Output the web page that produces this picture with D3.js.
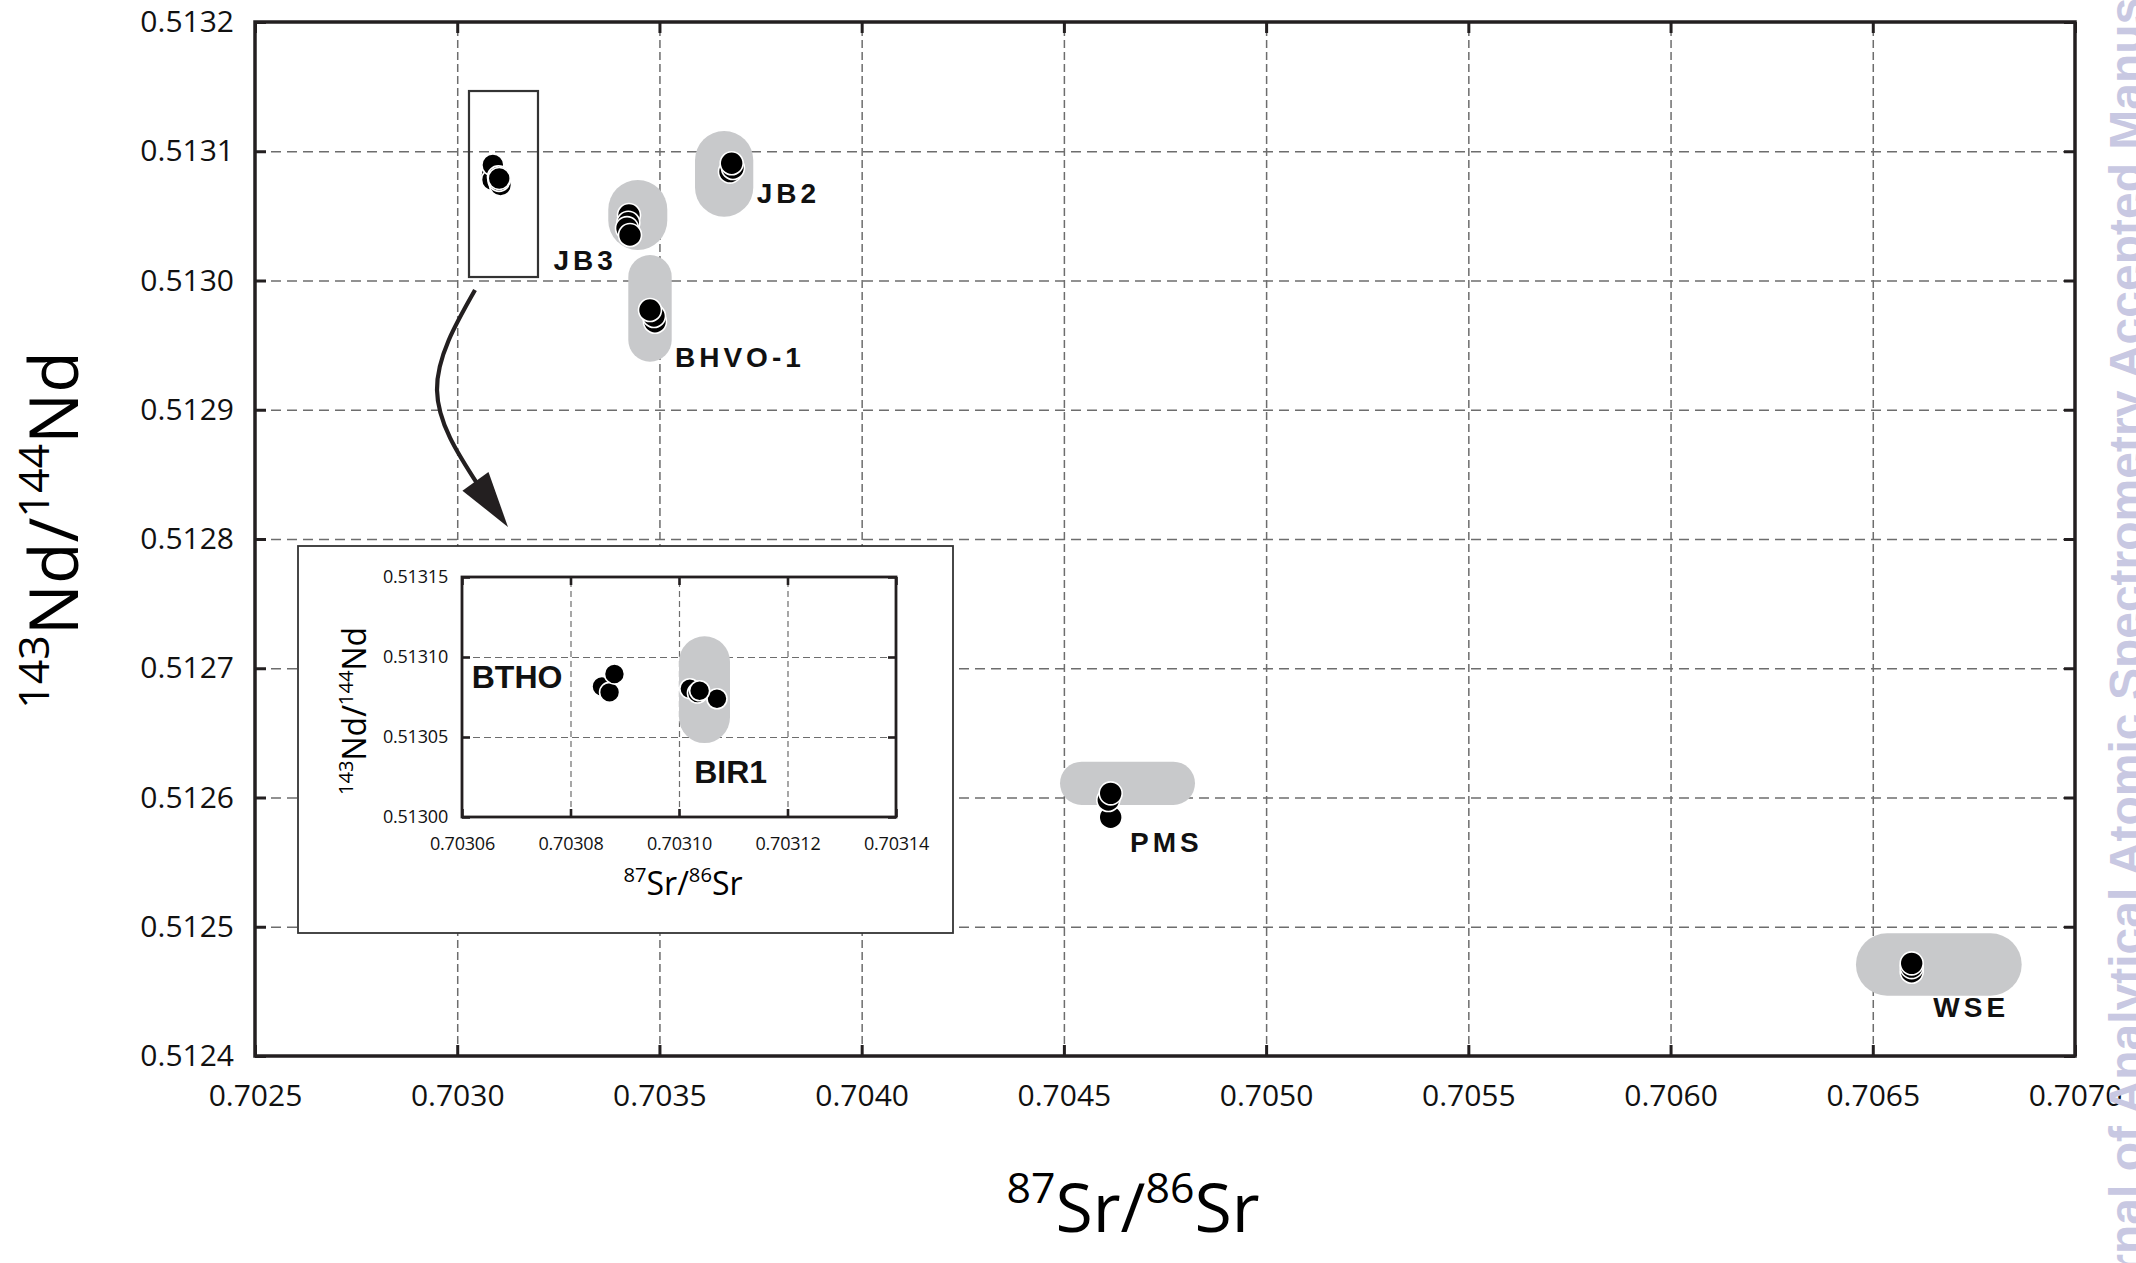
<!DOCTYPE html>
<html>
<head>
<meta charset="utf-8">
<script src="https://cdn.jsdelivr.net/npm/d3@7"></script>
<style>
    html, body { margin: 0; padding: 0; background: #ffffff; }
    svg { display: block; }
</style>
</head>
<body>
<svg id="chart" width="2136" height="1263"></svg>
<script>

// ---- main plot data ----
const X_TICKS = [0.7025, 0.7030, 0.7035, 0.7040, 0.7045, 0.7050, 0.7055, 0.7060, 0.7065, 0.7070];
const X_TICK_LABELS = ["0.7025", "0.7030", "0.7035", "0.7040", "0.7045", "0.7050", "0.7055", "0.7060", "0.7065", "0.7070"];
const Y_TICKS = [0.5124, 0.5125, 0.5126, 0.5127, 0.5128, 0.5129, 0.5130, 0.5131, 0.5132];
const Y_TICK_LABELS = ["0.5124", "0.5125", "0.5126", "0.5127", "0.5128", "0.5129", "0.5130", "0.5131", "0.5132"];

const JB3_SR = [0.7034247, 0.7034230, 0.7034198, 0.7034272];
const JB3_ND = [0.5130507, 0.5130447, 0.5130405, 0.5130352];
const JB2_SR = [0.7036744, 0.7036818, 0.7036786];
const JB2_ND = [0.5130842, 0.5130870, 0.5130907];
const BHVO1_SR = [0.7034890, 0.7034865, 0.7034766];
const BHVO1_ND = [0.5129681, 0.5129725, 0.5129772];
const PMS_SR = [0.7046157, 0.7046098, 0.7046157];
const PMS_ND = [0.5125847, 0.5125981, 0.5126032];
const WSE_SR = [0.7065962, 0.7065962, 0.7065962];
const WSE_ND = [0.5124652, 0.5124688, 0.5124717];

// grey fields behind each reference material
const HALO_NAMES = ["JB3", "JB2", "BHVO-1", "PMS", "WSE"];
const HALO_SR_MIN = [0.7033735, 0.7035879, 0.7034230, 0.7044904, 0.7064584];
const HALO_SR_MAX = [0.7035194, 0.7037320, 0.7035303, 0.7048242, 0.7068682];
const HALO_ND_MIN = [0.5130236, 0.5130494, 0.5129372, 0.5125942, 0.5124467];
const HALO_ND_MAX = [0.5130778, 0.5131157, 0.5130197, 0.5126277, 0.5124949];

const LABEL_TEXT = ["JB3", "JB2", "BHVO-1", "PMS", "WSE"];
const LABEL_SR = [0.703238, 0.7037405, 0.7035385, 0.7046635, 0.7066496];
const LABEL_ND = [0.5130081, 0.5130597, 0.5129333, 0.5125578, 0.5124304];

// zoom box and arrow (data units)
const ZOOM_BOX_SR = [0.7030291, 0.7031997];
const ZOOM_BOX_ND = [0.5130027, 0.5131466];
const ARROW_SR = [0.7030440, 0.7029500, 0.7030514, 0.7031255];
const ARROW_ND = [0.5129926, 0.5129153, 0.5128418, 0.5128093];

// ---- inset data ----
const INSET_X_TICKS = [0.70306, 0.70308, 0.70310, 0.70312, 0.70314];
const INSET_X_TICK_LABELS = ["0.70306", "0.70308", "0.70310", "0.70312", "0.70314"];
const INSET_Y_TICKS = [0.51300, 0.51305, 0.51310, 0.51315];
const INSET_Y_TICK_LABELS = ["0.51300", "0.51305", "0.51310", "0.51315"];

const BTHO_SR = [0.7030858, 0.7030872, 0.7030881];
const BTHO_ND = [0.5130816, 0.5130779, 0.5130894];
const BIR1_SR = [0.7031020, 0.7031070, 0.7031034, 0.7031038];
const BIR1_ND = [0.5130802, 0.5130739, 0.5130775, 0.5130789];

const INSET_HALO_SR = [0.7031000, 0.7031094];
const INSET_HALO_ND = [0.5130462, 0.5131129];

const INSET_LABEL_TEXT = ["BTHO", "BIR1"];
const INSET_LABEL_SR = [0.7030618, 0.7031028];
const INSET_LABEL_ND = [0.5130806, 0.5130213];

const X_TITLE = [["87", true], ["Sr/", false], ["86", true], ["Sr", false]];
const Y_TITLE = [["143", true], ["Nd/", false], ["144", true], ["Nd", false]];
const WATERMARK = "Journal of Analytical Atomic Spectrometry Accepted Manuscript";

// ---- layout ----
const FRAME_COLOR = "#231f20";
const GRID_COLOR = "#6d6d6d";
const HALO_COLOR = "#c8c9cb";
const TEXT_FONT = "'Open Sans', 'DejaVu Sans', sans-serif";
const LABEL_FONT = "'Liberation Sans', Arial, sans-serif";

const plot = {left: 255, right: 2075, top: 22, bottom: 1056};
const insetBox = {x: 298, y: 546, w: 655, h: 387};
const insetPlot = {left: 462, right: 896, top: 577, bottom: 817};

const svg = d3.select("#chart");
svg.append("rect").attr("width", 2136).attr("height", 1263).attr("fill", "#ffffff");

const x = d3.scaleLinear().domain([0.7025, 0.7070]).range([plot.left, plot.right]);
const y = d3.scaleLinear().domain([0.5124, 0.5132]).range([plot.bottom, plot.top]);

const zipPoints = (srs, nds) => srs.map((sr, i) => ({sr: sr, nd: nds[i]}));

// draws gridlines, halos, points, frame and ticks for one panel
const drawPanel = (g, xs, ys, area, opts) => {
    const w = area.right - area.left;
    const h = area.bottom - area.top;

    const gridV = g.append("g")
        .attr("transform", "translate(0," + area.bottom + ")")
        .call(d3.axisBottom(xs).tickValues(opts.xTicks.slice(1, -1)).tickSize(-h).tickFormat(""));
    gridV.select(".domain").remove();
    gridV.selectAll("line")
        .attr("stroke", GRID_COLOR)
        .attr("stroke-width", opts.gridWidth)
        .attr("stroke-dasharray", opts.dashV);

    const gridH = g.append("g")
        .attr("transform", "translate(" + area.left + ",0)")
        .call(d3.axisLeft(ys).tickValues(opts.yTicks.slice(1, -1)).tickSize(-w).tickFormat(""));
    gridH.select(".domain").remove();
    gridH.selectAll("line")
        .attr("stroke", GRID_COLOR)
        .attr("stroke-width", opts.gridWidth)
        .attr("stroke-dasharray", opts.dashH);

    opts.extra(g);

    // frame
    g.append("rect")
        .attr("x", area.left)
        .attr("y", area.top)
        .attr("width", w)
        .attr("height", h)
        .attr("fill", "none")
        .attr("stroke", FRAME_COLOR)
        .attr("stroke-width", opts.frameWidth);

    const styleAxis = (sel, withLabels) => {
        sel.select(".domain").remove();
        sel.selectAll(".tick line")
            .attr("stroke", FRAME_COLOR)
            .attr("stroke-width", opts.tickWidth);
        sel.selectAll(".tick text")
            .attr("fill", "#111")
            .style("font-family", TEXT_FONT)
            .style("font-size", opts.tickFont + "px")
            .style("letter-spacing", opts.tickSpacing + "px")
            .style("display", withLabels ? null : "none");
    };

    const bottomAxis = d3.axisBottom(xs).tickValues(opts.xTicks)
        .tickFormat((d, i) => opts.xLabels[i])
        .tickSizeInner(-opts.tickLen).tickSizeOuter(0).tickPadding(opts.xPad);
    g.append("g").attr("transform", "translate(0," + area.bottom + ")")
        .call(bottomAxis).call((s) => styleAxis(s, true));

    const topAxis = d3.axisTop(xs).tickValues(opts.xTicks)
        .tickSizeInner(-opts.tickLen).tickSizeOuter(0).tickFormat("");
    g.append("g").attr("transform", "translate(0," + area.top + ")")
        .call(topAxis).call((s) => styleAxis(s, false));

    const leftAxis = d3.axisLeft(ys).tickValues(opts.yTicks)
        .tickFormat((d, i) => opts.yLabels[i])
        .tickSizeInner(-opts.tickLen).tickSizeOuter(0).tickPadding(opts.yPad);
    g.append("g").attr("transform", "translate(" + area.left + ",0)")
        .call(leftAxis).call((s) => styleAxis(s, true));

    const rightAxis = d3.axisRight(ys).tickValues(opts.yTicks)
        .tickSizeInner(-opts.tickLen).tickSizeOuter(0).tickFormat("");
    g.append("g").attr("transform", "translate(" + area.right + ",0)")
        .call(rightAxis).call((s) => styleAxis(s, false));
};

const drawHalo = (g, xs, ys, srMin, srMax, ndMin, ndMax) => {
    const x0 = xs(srMin), x1 = xs(srMax);
    const y0 = ys(ndMax), y1 = ys(ndMin);
    const r = Math.min(x1 - x0, y1 - y0) / 2;
    g.append("rect")
        .attr("x", x0).attr("y", y0)
        .attr("width", x1 - x0).attr("height", y1 - y0)
        .attr("rx", r).attr("ry", r)
        .attr("fill", HALO_COLOR);
};

const drawPoints = (g, xs, ys, points, radius) => {
    g.append("g")
        .selectAll("circle")
        .data(points)
        .join("circle")
        .attr("cx", (d) => xs(d.sr))
        .attr("cy", (d) => ys(d.nd))
        .attr("r", radius)
        .attr("fill", "#000")
        .attr("stroke", "#fff")
        .attr("stroke-width", 1.6);
};

const addIsotopeText = (g, parts, size) => {
    const t = g.append("text")
        .attr("fill", "#000")
        .attr("text-anchor", "middle")
        .style("font-family", TEXT_FONT)
        .style("font-size", size + "px");
    const shift = size * 0.42;
    let raised = false;
    parts.forEach(([txt, sup]) => {
        const span = t.append("tspan").text(txt);
        if (sup) {
            span.style("font-size", (size * 0.63) + "px").attr("dy", raised ? 0 : -shift);
            raised = true;
        } else {
            span.attr("dy", raised ? shift : 0);
            raised = false;
        }
    });
    return t;
};

// ---- main panel ----
const main = svg.append("g");
drawPanel(main, x, y, plot, {
    xTicks: X_TICKS, yTicks: Y_TICKS, xLabels: X_TICK_LABELS, yLabels: Y_TICK_LABELS,
    gridWidth: 1.5, dashV: "8,4", dashH: "10,6",
    frameWidth: 3.5, tickWidth: 3, tickLen: 11,
    tickFont: 30, tickSpacing: 0, xPad: 29, yPad: 21,
    extra: (g) => {
        HALO_NAMES.forEach((name, i) => {
            drawHalo(g, x, y, HALO_SR_MIN[i], HALO_SR_MAX[i], HALO_ND_MIN[i], HALO_ND_MAX[i]);
        });

        // box around the BTHO / BIR1 cluster
        g.append("rect")
            .attr("x", x(ZOOM_BOX_SR[0]))
            .attr("y", y(ZOOM_BOX_ND[1]))
            .attr("width", x(ZOOM_BOX_SR[1]) - x(ZOOM_BOX_SR[0]))
            .attr("height", y(ZOOM_BOX_ND[0]) - y(ZOOM_BOX_ND[1]))
            .attr("fill", "none")
            .attr("stroke", "#333")
            .attr("stroke-width", 2.2);

        // curved arrow pointing to the inset
        const arrowPts = ARROW_SR.map((sr, i) => [x(sr), y(ARROW_ND[i])]);
        const shaft = arrowPts.slice(0, 3);
        g.append("path")
            .attr("d", d3.line().curve(d3.curveNatural)(shaft))
            .attr("fill", "none")
            .attr("stroke", FRAME_COLOR)
            .attr("stroke-width", 4.2);
        const tip = arrowPts[3];
        const end = arrowPts[2];
        const dx = tip[0] - end[0], dy = tip[1] - end[1];
        const len = Math.hypot(dx, dy);
        const ux = dx / len, uy = dy / len;
        const headLen = 56, halfW = 16;
        const bx = tip[0] - ux * headLen, by = tip[1] - uy * headLen;
        g.append("path")
            .attr("d", "M" + tip[0] + "," + tip[1] +
                "L" + (bx - uy * halfW) + "," + (by + ux * halfW) +
                "L" + (bx + uy * halfW) + "," + (by - ux * halfW) + "Z")
            .attr("fill", FRAME_COLOR);

        drawPoints(g, x, y, zipPoints(BTHO_SR, BTHO_ND), 11);
        drawPoints(g, x, y, zipPoints(BIR1_SR, BIR1_ND), 11);
        drawPoints(g, x, y, zipPoints(JB3_SR, JB3_ND), 11.5);
        drawPoints(g, x, y, zipPoints(JB2_SR, JB2_ND), 11.5);
        drawPoints(g, x, y, zipPoints(BHVO1_SR, BHVO1_ND), 11.5);
        drawPoints(g, x, y, zipPoints(PMS_SR, PMS_ND), 11.5);
        drawPoints(g, x, y, zipPoints(WSE_SR, WSE_ND), 11.5);

        g.append("g")
            .selectAll("text")
            .data(LABEL_TEXT)
            .join("text")
            .attr("x", (d, i) => x(LABEL_SR[i]))
            .attr("y", (d, i) => y(LABEL_ND[i]))
            .attr("fill", "#111")
            .style("font-family", LABEL_FONT)
            .style("font-weight", "bold")
            .style("font-size", "28px")
            .style("letter-spacing", "4px")
            .text((d) => d);
    }
});

// ---- inset ----
const ix = d3.scaleLinear().domain([0.70306, 0.70314]).range([insetPlot.left, insetPlot.right]);
const iy = d3.scaleLinear().domain([0.51300, 0.51315]).range([insetPlot.bottom, insetPlot.top]);

const inset = svg.append("g");
inset.append("rect")
    .attr("x", insetBox.x).attr("y", insetBox.y)
    .attr("width", insetBox.w).attr("height", insetBox.h)
    .attr("fill", "#fff")
    .attr("stroke", "#333")
    .attr("stroke-width", 1.8);

drawPanel(inset, ix, iy, insetPlot, {
    xTicks: INSET_X_TICKS, yTicks: INSET_Y_TICKS, xLabels: INSET_X_TICK_LABELS, yLabels: INSET_Y_TICK_LABELS,
    gridWidth: 1.2, dashV: "6,4", dashH: "7,4",
    frameWidth: 2.8, tickWidth: 2.6, tickLen: 8,
    tickFont: 18, tickSpacing: -0.2, xPad: 20, yPad: 14,
    extra: (g) => {
        drawHalo(g, ix, iy, INSET_HALO_SR[0], INSET_HALO_SR[1], INSET_HALO_ND[0], INSET_HALO_ND[1]);
        drawPoints(g, ix, iy, zipPoints(BTHO_SR, BTHO_ND), 10);
        drawPoints(g, ix, iy, zipPoints(BIR1_SR, BIR1_ND), 10);
        g.append("g")
            .selectAll("text")
            .data(INSET_LABEL_TEXT)
            .join("text")
            .attr("x", (d, i) => ix(INSET_LABEL_SR[i]))
            .attr("y", (d, i) => iy(INSET_LABEL_ND[i]))
            .attr("fill", "#111")
            .style("font-family", LABEL_FONT)
            .style("font-weight", "bold")
            .style("font-size", "32px")
            .text((d) => d);
    }
});

addIsotopeText(inset, X_TITLE, 32)
    .attr("x", (insetPlot.left + insetPlot.right) / 2 + 4)
    .attr("y", 895);
addIsotopeText(inset, Y_TITLE, 32)
    .attr("transform", "translate(366," + ((insetPlot.top + insetPlot.bottom) / 2 + 14) + ") rotate(-90)");

// ---- axis titles ----
addIsotopeText(svg, X_TITLE, 68)
    .attr("x", 1133)
    .attr("y", 1232);
addIsotopeText(svg, Y_TITLE, 68)
    .attr("transform", "translate(78,530) rotate(-90)");

// ---- journal watermark (runs off the page edge, as in the source) ----
svg.append("text")
    .attr("transform", "translate(2143,1358) rotate(-90)")
    .attr("fill", "#c8c8e2")
    .style("font-family", LABEL_FONT)
    .style("font-weight", "bold")
    .style("font-size", "48px")
    .text(WATERMARK);

</script>
</body>
</html>
